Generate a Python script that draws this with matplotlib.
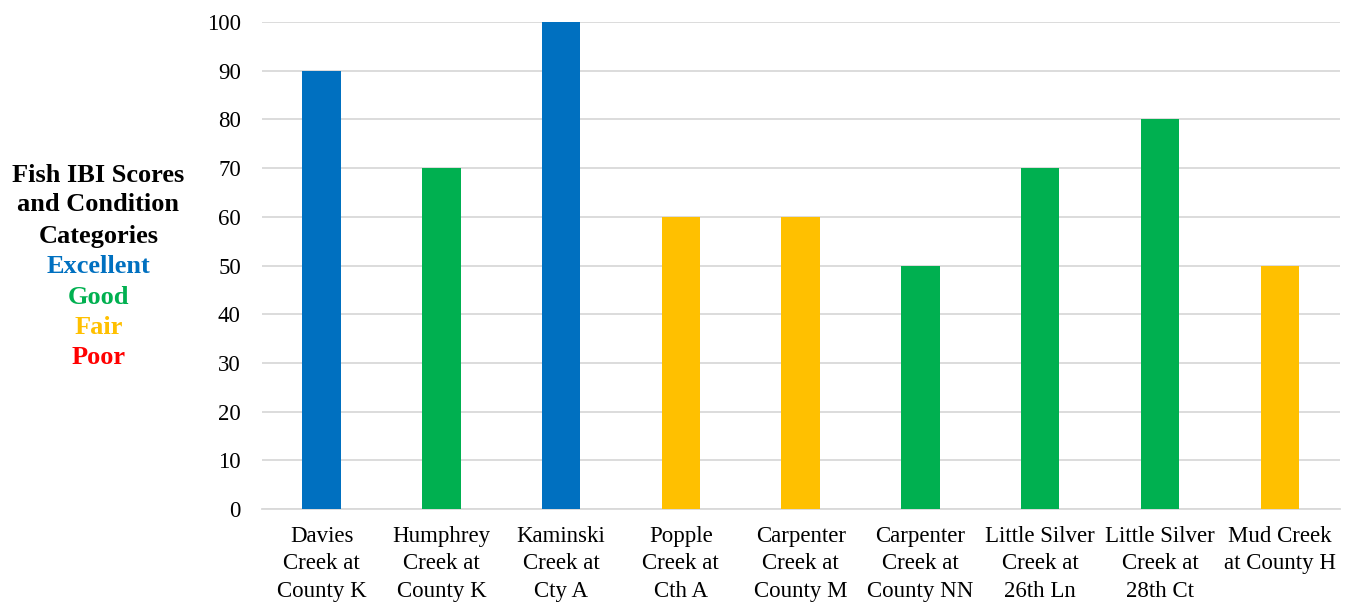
import matplotlib.pyplot as plt

sites = ['Davies\nCreek at\nCounty K', 'Humphrey\nCreek at\nCounty K', 'Kaminski\nCreek at\nCty A',
         'Popple\nCreek at\nCth A', 'Carpenter\nCreek at\nCounty M', 'Carpenter\nCreek at\nCounty NN',
         'Little Silver\nCreek at\n26th Ln', 'Little Silver\nCreek at\n28th Ct', 'Mud Creek\nat County H']
scores = [90, 70, 100, 60, 60, 50, 70, 80, 50]
condition = ['Excellent', 'Good', 'Excellent', 'Fair', 'Fair', 'Good', 'Good', 'Good', 'Fair']

colors = {'Excellent': '#0070C0', 'Good': '#00B050', 'Fair': '#FFC000', 'Poor': '#FF0000'}

plt.rcParams['font.family'] = ['Liberation Serif', 'DejaVu Serif']

fig = plt.figure(figsize=(13.49, 6.06), dpi=100)
ax = fig.add_axes([0.194, 0.160, 0.799, 0.8037])

x = range(len(sites))
ax.bar(x, scores, width=0.32, color=[colors[c] for c in condition], zorder=3)

ax.set_ylim(0, 100)
ax.set_xlim(-0.5, len(sites) - 0.5)
ax.set_yticks(range(0, 101, 10))
ax.set_xticks(list(x))
ax.set_xticklabels(sites, fontsize=16.5, linespacing=1.42)
ax.tick_params(axis='y', labelsize=16.5, length=0, pad=15)
ax.tick_params(axis='x', length=0, pad=12)
ax.grid(axis='y', color='#D9D9D9', linewidth=1.3, zorder=0)
for s in ['top', 'right', 'left']:
    ax.spines[s].set_visible(False)
ax.spines['bottom'].set_color('#D9D9D9')
ax.spines['bottom'].set_linewidth(1.3)

# category label on the left, one line at a time
lines = ['Fish IBI Scores', 'and Condition', 'Categories', 'Excellent', 'Good', 'Fair', 'Poor']
line_y = [175, 205, 236, 267, 297, 327, 358]
for label, y in zip(lines, line_y):
    fig.text(0.073, 1 - y / 606, label, ha='center', va='center', fontsize=19,
             fontweight='bold', color=colors.get(label, 'black'))

fig.savefig('out.png', dpi=100)
